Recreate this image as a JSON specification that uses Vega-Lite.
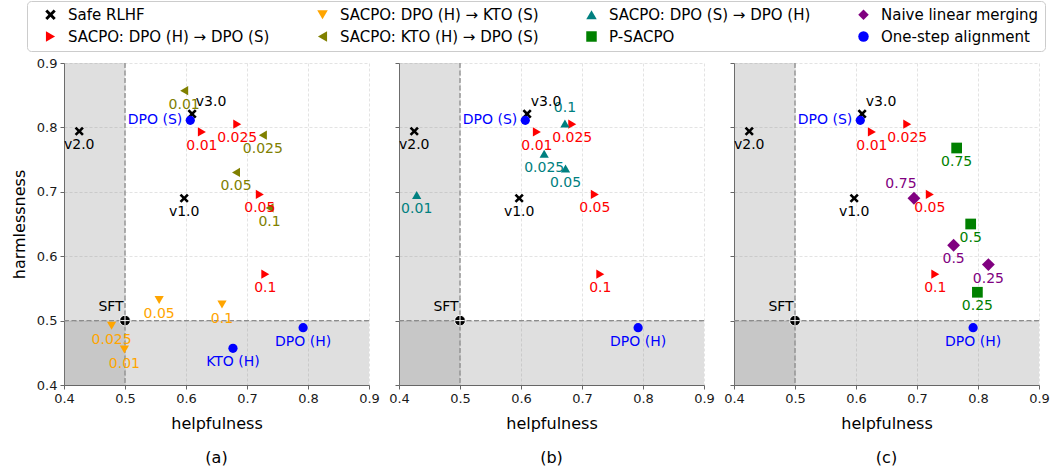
{
  "$schema": "https://vega.github.io/schema/vega-lite/v6.json",
  "padding": {"left": 11, "top": 0, "right": 2, "bottom": 2},
  "bounds": "flush",
  "spacing": 30,
  "config": {
    "font": "DejaVu Sans",
    "view": {"stroke": null},
    "axis": {"labelFont": "DejaVu Sans", "labelFontSize": 13, "labelColor": "#1a1a1a", "titleFont": "DejaVu Sans", "titleFontSize": 16, "titleFontWeight": "normal", "titleColor": "#000000", "domainColor": "#666666", "tickColor": "#666666", "tickSize": 4, "labelPadding": 3, "gridColor": "#dcdcdc", "gridDash": [3, 2], "gridWidth": 0.8},
    "axisX": {"titlePadding": 10},
    "axisY": {"titlePadding": 9},
    "title": {"font": "DejaVu Sans", "fontSize": 16, "fontWeight": "normal", "color": "#000000", "orient": "bottom", "offset": 19}
  },
  "datasets": {
    "shade": [{"x0": 0.4, "x1": 0.5, "y0": 0.4, "y1": 0.9}, {"x0": 0.4, "x1": 0.9, "y0": 0.4, "y1": 0.5}],
    "ref": [{"v": 0.5}],
    "pts": [
      {"panel": "abc", "series": "Safe RLHF", "x": 0.425, "y": 0.794, "label": "v2.0"},
      {"panel": "abc", "series": "Safe RLHF", "x": 0.61, "y": 0.821, "label": "v3.0"},
      {"panel": "abc", "series": "Safe RLHF", "x": 0.597, "y": 0.69, "label": "v1.0"},
      {"panel": "abc", "series": "SFT", "x": 0.5, "y": 0.5, "label": "SFT"},
      {"panel": "abc", "series": "One-step alignment", "x": 0.607, "y": 0.811, "label": "DPO (S)"},
      {"panel": "abc", "series": "One-step alignment", "x": 0.792, "y": 0.489, "label": "DPO (H)"},
      {"panel": "a", "series": "One-step alignment", "x": 0.677, "y": 0.457, "label": "KTO (H)"},
      {"panel": "abc", "series": "SACPO: DPO (H) → DPO (S)", "x": 0.626, "y": 0.793, "label": "0.01"},
      {"panel": "abc", "series": "SACPO: DPO (H) → DPO (S)", "x": 0.684, "y": 0.805, "label": "0.025"},
      {"panel": "abc", "series": "SACPO: DPO (H) → DPO (S)", "x": 0.721, "y": 0.696, "label": "0.05"},
      {"panel": "abc", "series": "SACPO: DPO (H) → DPO (S)", "x": 0.73, "y": 0.572, "label": "0.1"},
      {"panel": "a", "series": "SACPO: KTO (H) → DPO (S)", "x": 0.597, "y": 0.857, "label": "0.01"},
      {"panel": "a", "series": "SACPO: KTO (H) → DPO (S)", "x": 0.726, "y": 0.788, "label": "0.025"},
      {"panel": "a", "series": "SACPO: KTO (H) → DPO (S)", "x": 0.682, "y": 0.73, "label": "0.05"},
      {"panel": "a", "series": "SACPO: KTO (H) → DPO (S)", "x": 0.737, "y": 0.675, "label": "0.1"},
      {"panel": "a", "series": "SACPO: DPO (H) → KTO (S)", "x": 0.499, "y": 0.455, "label": "0.01"},
      {"panel": "a", "series": "SACPO: DPO (H) → KTO (S)", "x": 0.478, "y": 0.492, "label": "0.025"},
      {"panel": "a", "series": "SACPO: DPO (H) → KTO (S)", "x": 0.556, "y": 0.532, "label": "0.05"},
      {"panel": "a", "series": "SACPO: DPO (H) → KTO (S)", "x": 0.659, "y": 0.525, "label": "0.1"},
      {"panel": "b", "series": "SACPO: DPO (S) → DPO (H)", "x": 0.429, "y": 0.695, "label": "0.01"},
      {"panel": "b", "series": "SACPO: DPO (S) → DPO (H)", "x": 0.638, "y": 0.759, "label": "0.025"},
      {"panel": "b", "series": "SACPO: DPO (S) → DPO (H)", "x": 0.673, "y": 0.736, "label": "0.05"},
      {"panel": "b", "series": "SACPO: DPO (S) → DPO (H)", "x": 0.672, "y": 0.806, "label": "0.1"},
      {"panel": "c", "series": "P-SACPO", "x": 0.765, "y": 0.768, "label": "0.75"},
      {"panel": "c", "series": "P-SACPO", "x": 0.788, "y": 0.65, "label": "0.5"},
      {"panel": "c", "series": "P-SACPO", "x": 0.799, "y": 0.544, "label": "0.25"},
      {"panel": "c", "series": "Naive linear merging", "x": 0.695, "y": 0.69, "label": "0.75"},
      {"panel": "c", "series": "Naive linear merging", "x": 0.76, "y": 0.617, "label": "0.5"},
      {"panel": "c", "series": "Naive linear merging", "x": 0.817, "y": 0.587, "label": "0.25"}
    ]
  },
  "hconcat": [
    {
      "width": 305, "height": 322,
      "title": {"text": "(a)"},
      "layer": [
        {"data": {"name": "shade"}, "mark": {"type": "rect", "color": "#808080", "opacity": 0.25},
         "encoding": {
           "x": {"field": "x0", "type": "quantitative", "scale": {"domain": [0.4, 0.9], "nice": false, "zero": false}, "axis": {"values": [0.4, 0.5, 0.6, 0.7, 0.8, 0.9], "format": ".1f", "title": "helpfulness", "labelFlush": false, "labelOverlap": false}},
           "x2": {"field": "x1"},
           "y": {"field": "y0", "type": "quantitative", "scale": {"domain": [0.4, 0.9], "nice": false, "zero": false}, "axis": {"values": [0.4, 0.5, 0.6, 0.7, 0.8, 0.9], "format": ".1f", "title": "harmlessness", "labelOverlap": false}},
           "y2": {"field": "y1"}}},
        {"data": {"name": "ref"}, "mark": {"type": "rule", "color": "#8c8c8c", "strokeDash": [5, 2.5], "strokeWidth": 1.3}, "encoding": {"x": {"field": "v", "type": "quantitative"}}},
        {"data": {"name": "ref"}, "mark": {"type": "rule", "color": "#8c8c8c", "strokeDash": [5, 2.5], "strokeWidth": 1.3}, "encoding": {"y": {"field": "v", "type": "quantitative"}}},
        {"data": {"name": "pts"}, "transform": [{"filter": "indexof(datum.panel,'a')>=0 && datum.series!='SFT' && datum.series!='P-SACPO' && datum.series!='Naive linear merging'"}],
         "mark": {"type": "point", "filled": true, "size": 85, "opacity": 1},
         "encoding": {
           "x": {"field": "x", "type": "quantitative"}, "y": {"field": "y", "type": "quantitative"},
           "color": {"field": "series", "type": "nominal", "scale": {"domain": ["Safe RLHF", "SACPO: DPO (H) → DPO (S)", "SACPO: DPO (H) → KTO (S)", "SACPO: KTO (H) → DPO (S)", "SACPO: DPO (S) → DPO (H)", "P-SACPO", "Naive linear merging", "One-step alignment"], "range": ["#000000", "#ff0000", "#ffa500", "#808000", "#008080", "#008000", "#800080", "#0000ff"]},
             "legend": {"title": null, "orient": "none", "legendX": -37, "legendY": -62, "columns": 4, "columnPadding": 35, "rowPadding": 6, "labelFontSize": 15, "labelFont": "DejaVu Sans", "labelColor": "#000000", "labelLimit": 400, "symbolSize": 110, "labelOffset": 10, "symbolOffset": 10, "strokeColor": "#cccccc", "fillColor": "#ffffff", "cornerRadius": 4, "padding": 6}},
           "shape": {"field": "series", "type": "nominal", "scale": {"domain": ["Safe RLHF", "SACPO: DPO (H) → DPO (S)", "SACPO: DPO (H) → KTO (S)", "SACPO: KTO (H) → DPO (S)", "SACPO: DPO (S) → DPO (H)", "P-SACPO", "Naive linear merging", "One-step alignment"], "range": ["M-1,-0.6L-0.6,-1L0,-0.4L0.6,-1L1,-0.6L0.4,0L1,0.6L0.6,1L0,0.4L-0.6,1L-1,0.6L-0.4,0Z", "triangle-right", "triangle-down", "triangle-left", "triangle-up", "square", "diamond", "circle"]},
             "legend": {"title": null, "orient": "none", "legendX": -37, "legendY": -62, "columns": 4, "columnPadding": 35, "rowPadding": 6, "labelFontSize": 15, "labelFont": "DejaVu Sans", "labelColor": "#000000", "labelLimit": 400, "symbolSize": 110, "labelOffset": 10, "symbolOffset": 10, "strokeColor": "#cccccc", "fillColor": "#ffffff", "cornerRadius": 4, "padding": 6}}}},
        {"data": {"name": "pts"}, "transform": [{"filter": "datum.series=='SFT'"}], "mark": {"type": "point", "filled": true, "shape": "circle", "size": 115, "color": "#000000", "stroke": "#ffffff", "strokeWidth": 1, "opacity": 1},
         "encoding": {"x": {"field": "x", "type": "quantitative"}, "y": {"field": "y", "type": "quantitative"}}},
        {"data": {"name": "pts"}, "transform": [{"filter": "datum.series=='SFT'"}], "mark": {"type": "point", "filled": false, "shape": "M-1,0L1,0M0,-1L0,1", "size": 90, "stroke": "#ffffff", "strokeWidth": 1, "opacity": 1},
         "encoding": {"x": {"field": "x", "type": "quantitative"}, "y": {"field": "y", "type": "quantitative"}}},
        {"data": {"name": "pts"}, "transform": [{"filter": "indexof(datum.panel,'a')>=0 && datum.series!='SFT' && datum.label!='v3.0' && datum.label!='DPO (S)' && !(datum.series=='Naive linear merging' && datum.label=='0.75') && !(datum.series=='SACPO: DPO (S) → DPO (H)' && datum.label=='0.1')"}],
         "mark": {"type": "text", "fontSize": 14, "font": "DejaVu Sans", "dy": 14},
         "encoding": {"x": {"field": "x", "type": "quantitative"}, "y": {"field": "y", "type": "quantitative"}, "text": {"field": "label"},
           "color": {"field": "series", "type": "nominal", "legend": null}}},
        {"data": {"name": "pts"}, "transform": [{"filter": "indexof(datum.panel,'a')>=0 && datum.label=='v3.0'"}],
         "mark": {"type": "text", "fontSize": 14, "font": "DejaVu Sans", "dx": 19, "dy": -12},
         "encoding": {"x": {"field": "x", "type": "quantitative"}, "y": {"field": "y", "type": "quantitative"}, "text": {"field": "label"},
           "color": {"field": "series", "type": "nominal", "legend": null}}},
        {"data": {"name": "pts"}, "transform": [{"filter": "indexof(datum.panel,'a')>=0 && datum.label=='DPO (S)'"}],
         "mark": {"type": "text", "fontSize": 14, "font": "DejaVu Sans", "align": "right", "dx": -8},
         "encoding": {"x": {"field": "x", "type": "quantitative"}, "y": {"field": "y", "type": "quantitative"}, "text": {"field": "label"},
           "color": {"field": "series", "type": "nominal", "legend": null}}},
        {"data": {"name": "pts"}, "transform": [{"filter": "datum.series=='SFT'"}],
         "mark": {"type": "text", "fontSize": 14, "font": "DejaVu Sans", "dx": -14, "dy": -14, "color": "#000000"},
         "encoding": {"x": {"field": "x", "type": "quantitative"}, "y": {"field": "y", "type": "quantitative"}, "text": {"field": "label"}}}
      ]
    },
    {
      "width": 305, "height": 322,
      "title": {"text": "(b)"},
      "layer": [
        {"data": {"name": "shade"}, "mark": {"type": "rect", "color": "#808080", "opacity": 0.25},
         "encoding": {
           "x": {"field": "x0", "type": "quantitative", "scale": {"domain": [0.4, 0.9], "nice": false, "zero": false}, "axis": {"values": [0.4, 0.5, 0.6, 0.7, 0.8, 0.9], "format": ".1f", "title": "helpfulness", "labelFlush": false, "labelOverlap": false}},
           "x2": {"field": "x1"},
           "y": {"field": "y0", "type": "quantitative", "scale": {"domain": [0.4, 0.9], "nice": false, "zero": false}, "axis": {"values": [0.4, 0.5, 0.6, 0.7, 0.8, 0.9], "labels": false, "title": null}},
           "y2": {"field": "y1"}}},
        {"data": {"name": "ref"}, "mark": {"type": "rule", "color": "#8c8c8c", "strokeDash": [5, 2.5], "strokeWidth": 1.3}, "encoding": {"x": {"field": "v", "type": "quantitative"}}},
        {"data": {"name": "ref"}, "mark": {"type": "rule", "color": "#8c8c8c", "strokeDash": [5, 2.5], "strokeWidth": 1.3}, "encoding": {"y": {"field": "v", "type": "quantitative"}}},
        {"data": {"name": "pts"}, "transform": [{"filter": "indexof(datum.panel,'b')>=0 && datum.series!='SFT'"}],
         "mark": {"type": "point", "filled": true, "size": 85, "opacity": 1},
         "encoding": {
           "x": {"field": "x", "type": "quantitative"}, "y": {"field": "y", "type": "quantitative"},
           "color": {"field": "series", "type": "nominal",
             "legend": {"title": null, "orient": "none", "legendX": -37, "legendY": -62, "columns": 4, "columnPadding": 35, "rowPadding": 6, "labelFontSize": 15, "labelFont": "DejaVu Sans", "labelColor": "#000000", "labelLimit": 400, "symbolSize": 110, "labelOffset": 10, "symbolOffset": 10, "strokeColor": "#cccccc", "fillColor": "#ffffff", "cornerRadius": 4, "padding": 6}},
           "shape": {"field": "series", "type": "nominal",
             "legend": {"title": null, "orient": "none", "legendX": -37, "legendY": -62, "columns": 4, "columnPadding": 35, "rowPadding": 6, "labelFontSize": 15, "labelFont": "DejaVu Sans", "labelColor": "#000000", "labelLimit": 400, "symbolSize": 110, "labelOffset": 10, "symbolOffset": 10, "strokeColor": "#cccccc", "fillColor": "#ffffff", "cornerRadius": 4, "padding": 6}}}},
        {"data": {"name": "pts"}, "transform": [{"filter": "datum.series=='SFT'"}], "mark": {"type": "point", "filled": true, "shape": "circle", "size": 115, "color": "#000000", "stroke": "#ffffff", "strokeWidth": 1, "opacity": 1},
         "encoding": {"x": {"field": "x", "type": "quantitative"}, "y": {"field": "y", "type": "quantitative"}}},
        {"data": {"name": "pts"}, "transform": [{"filter": "datum.series=='SFT'"}], "mark": {"type": "point", "filled": false, "shape": "M-1,0L1,0M0,-1L0,1", "size": 90, "stroke": "#ffffff", "strokeWidth": 1, "opacity": 1},
         "encoding": {"x": {"field": "x", "type": "quantitative"}, "y": {"field": "y", "type": "quantitative"}}},
        {"data": {"name": "pts"}, "transform": [{"filter": "indexof(datum.panel,'b')>=0 && datum.series!='SFT' && datum.label!='v3.0' && datum.label!='DPO (S)' && !(datum.series=='SACPO: DPO (S) → DPO (H)' && datum.label=='0.1')"}],
         "mark": {"type": "text", "fontSize": 14, "font": "DejaVu Sans", "dy": 14},
         "encoding": {"x": {"field": "x", "type": "quantitative"}, "y": {"field": "y", "type": "quantitative"}, "text": {"field": "label"},
           "color": {"field": "series", "type": "nominal", "legend": null}}},
        {"data": {"name": "pts"}, "transform": [{"filter": "datum.series=='SACPO: DPO (S) → DPO (H)' && datum.label=='0.1'"}],
         "mark": {"type": "text", "fontSize": 14, "font": "DejaVu Sans", "dy": -16},
         "encoding": {"x": {"field": "x", "type": "quantitative"}, "y": {"field": "y", "type": "quantitative"}, "text": {"field": "label"},
           "color": {"field": "series", "type": "nominal", "legend": null}}},
        {"data": {"name": "pts"}, "transform": [{"filter": "indexof(datum.panel,'b')>=0 && datum.label=='v3.0'"}],
         "mark": {"type": "text", "fontSize": 14, "font": "DejaVu Sans", "dx": 19, "dy": -12},
         "encoding": {"x": {"field": "x", "type": "quantitative"}, "y": {"field": "y", "type": "quantitative"}, "text": {"field": "label"},
           "color": {"field": "series", "type": "nominal", "legend": null}}},
        {"data": {"name": "pts"}, "transform": [{"filter": "indexof(datum.panel,'b')>=0 && datum.label=='DPO (S)'"}],
         "mark": {"type": "text", "fontSize": 14, "font": "DejaVu Sans", "align": "right", "dx": -8},
         "encoding": {"x": {"field": "x", "type": "quantitative"}, "y": {"field": "y", "type": "quantitative"}, "text": {"field": "label"},
           "color": {"field": "series", "type": "nominal", "legend": null}}},
        {"data": {"name": "pts"}, "transform": [{"filter": "datum.series=='SFT'"}],
         "mark": {"type": "text", "fontSize": 14, "font": "DejaVu Sans", "dx": -14, "dy": -14, "color": "#000000"},
         "encoding": {"x": {"field": "x", "type": "quantitative"}, "y": {"field": "y", "type": "quantitative"}, "text": {"field": "label"}}}
      ]
    },
    {
      "width": 305, "height": 322,
      "title": {"text": "(c)"},
      "layer": [
        {"data": {"name": "shade"}, "mark": {"type": "rect", "color": "#808080", "opacity": 0.25},
         "encoding": {
           "x": {"field": "x0", "type": "quantitative", "scale": {"domain": [0.4, 0.9], "nice": false, "zero": false}, "axis": {"values": [0.4, 0.5, 0.6, 0.7, 0.8, 0.9], "format": ".1f", "title": "helpfulness", "labelFlush": false, "labelOverlap": false}},
           "x2": {"field": "x1"},
           "y": {"field": "y0", "type": "quantitative", "scale": {"domain": [0.4, 0.9], "nice": false, "zero": false}, "axis": {"values": [0.4, 0.5, 0.6, 0.7, 0.8, 0.9], "labels": false, "title": null}},
           "y2": {"field": "y1"}}},
        {"data": {"name": "ref"}, "mark": {"type": "rule", "color": "#8c8c8c", "strokeDash": [5, 2.5], "strokeWidth": 1.3}, "encoding": {"x": {"field": "v", "type": "quantitative"}}},
        {"data": {"name": "ref"}, "mark": {"type": "rule", "color": "#8c8c8c", "strokeDash": [5, 2.5], "strokeWidth": 1.3}, "encoding": {"y": {"field": "v", "type": "quantitative"}}},
        {"data": {"name": "pts"}, "transform": [{"filter": "indexof(datum.panel,'c')>=0 && datum.series!='SFT' && datum.series!='P-SACPO' && datum.series!='Naive linear merging'"}],
         "mark": {"type": "point", "filled": true, "size": 85, "opacity": 1},
         "encoding": {
           "x": {"field": "x", "type": "quantitative"}, "y": {"field": "y", "type": "quantitative"},
           "color": {"field": "series", "type": "nominal",
             "legend": {"title": null, "orient": "none", "legendX": -37, "legendY": -62, "columns": 4, "columnPadding": 35, "rowPadding": 6, "labelFontSize": 15, "labelFont": "DejaVu Sans", "labelColor": "#000000", "labelLimit": 400, "symbolSize": 110, "labelOffset": 10, "symbolOffset": 10, "strokeColor": "#cccccc", "fillColor": "#ffffff", "cornerRadius": 4, "padding": 6}},
           "shape": {"field": "series", "type": "nominal",
             "legend": {"title": null, "orient": "none", "legendX": -37, "legendY": -62, "columns": 4, "columnPadding": 35, "rowPadding": 6, "labelFontSize": 15, "labelFont": "DejaVu Sans", "labelColor": "#000000", "labelLimit": 400, "symbolSize": 110, "labelOffset": 10, "symbolOffset": 10, "strokeColor": "#cccccc", "fillColor": "#ffffff", "cornerRadius": 4, "padding": 6}}}},
        {"data": {"name": "pts"}, "transform": [{"filter": "datum.series=='P-SACPO'"}],
         "mark": {"type": "point", "filled": true, "size": 115, "opacity": 1},
         "encoding": {
           "x": {"field": "x", "type": "quantitative"}, "y": {"field": "y", "type": "quantitative"},
           "color": {"field": "series", "type": "nominal", "legend": null},
           "shape": {"field": "series", "type": "nominal", "legend": null}}},
        {"data": {"name": "pts"}, "transform": [{"filter": "datum.series=='Naive linear merging'"}],
         "mark": {"type": "point", "filled": true, "size": 165, "opacity": 1},
         "encoding": {
           "x": {"field": "x", "type": "quantitative"}, "y": {"field": "y", "type": "quantitative"},
           "color": {"field": "series", "type": "nominal", "legend": null},
           "shape": {"field": "series", "type": "nominal", "legend": null}}},
        {"data": {"name": "pts"}, "transform": [{"filter": "datum.series=='SFT'"}], "mark": {"type": "point", "filled": true, "shape": "circle", "size": 115, "color": "#000000", "stroke": "#ffffff", "strokeWidth": 1, "opacity": 1},
         "encoding": {"x": {"field": "x", "type": "quantitative"}, "y": {"field": "y", "type": "quantitative"}}},
        {"data": {"name": "pts"}, "transform": [{"filter": "datum.series=='SFT'"}], "mark": {"type": "point", "filled": false, "shape": "M-1,0L1,0M0,-1L0,1", "size": 90, "stroke": "#ffffff", "strokeWidth": 1, "opacity": 1},
         "encoding": {"x": {"field": "x", "type": "quantitative"}, "y": {"field": "y", "type": "quantitative"}}},
        {"data": {"name": "pts"}, "transform": [{"filter": "indexof(datum.panel,'c')>=0 && datum.series!='SFT' && datum.label!='v3.0' && datum.label!='DPO (S)' && !(datum.series=='Naive linear merging' && datum.label=='0.75')"}],
         "mark": {"type": "text", "fontSize": 14, "font": "DejaVu Sans", "dy": 14},
         "encoding": {"x": {"field": "x", "type": "quantitative"}, "y": {"field": "y", "type": "quantitative"}, "text": {"field": "label"},
           "color": {"field": "series", "type": "nominal", "legend": null}}},
        {"data": {"name": "pts"}, "transform": [{"filter": "datum.series=='Naive linear merging' && datum.label=='0.75'"}],
         "mark": {"type": "text", "fontSize": 14, "font": "DejaVu Sans", "dx": -13, "dy": -14},
         "encoding": {"x": {"field": "x", "type": "quantitative"}, "y": {"field": "y", "type": "quantitative"}, "text": {"field": "label"},
           "color": {"field": "series", "type": "nominal", "legend": null}}},
        {"data": {"name": "pts"}, "transform": [{"filter": "indexof(datum.panel,'c')>=0 && datum.label=='v3.0'"}],
         "mark": {"type": "text", "fontSize": 14, "font": "DejaVu Sans", "dx": 19, "dy": -12},
         "encoding": {"x": {"field": "x", "type": "quantitative"}, "y": {"field": "y", "type": "quantitative"}, "text": {"field": "label"},
           "color": {"field": "series", "type": "nominal", "legend": null}}},
        {"data": {"name": "pts"}, "transform": [{"filter": "indexof(datum.panel,'c')>=0 && datum.label=='DPO (S)'"}],
         "mark": {"type": "text", "fontSize": 14, "font": "DejaVu Sans", "align": "right", "dx": -8},
         "encoding": {"x": {"field": "x", "type": "quantitative"}, "y": {"field": "y", "type": "quantitative"}, "text": {"field": "label"},
           "color": {"field": "series", "type": "nominal", "legend": null}}},
        {"data": {"name": "pts"}, "transform": [{"filter": "datum.series=='SFT'"}],
         "mark": {"type": "text", "fontSize": 14, "font": "DejaVu Sans", "dx": -14, "dy": -14, "color": "#000000"},
         "encoding": {"x": {"field": "x", "type": "quantitative"}, "y": {"field": "y", "type": "quantitative"}, "text": {"field": "label"}}}
      ]
    }
  ]
}
